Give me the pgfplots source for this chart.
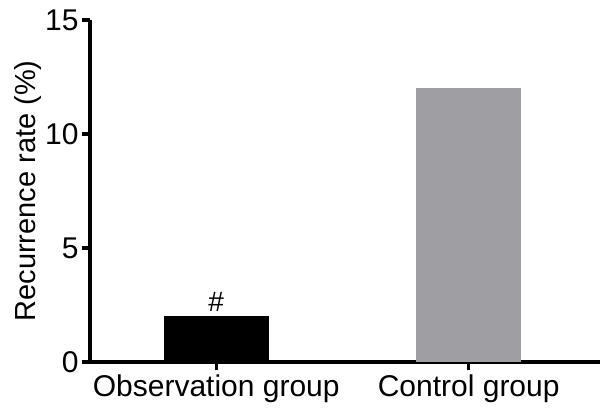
\documentclass[border=0pt]{standalone}
\usepackage{pgfplots}
\pgfplotsset{compat=1.18}
\usepackage{fontspec}
\setmainfont{Liberation Sans}
\definecolor{ctrlgray}{RGB}{159,159,163}

\begin{document}
\begin{tikzpicture}
\begin{axis}[
    name=ax,
    scale only axis,
    width=510pt, height=342pt,
    axis lines=left,
    axis line style={line width=3.4pt, -},
    xmin=-0.5, xmax=1.52,
    ymin=0, ymax=15,
    ytick={0,5,10,15},
    xtick={0,1},
    xticklabels={Observation group,Control group},
    tick style={line width=3.4pt, black},
    major tick length=8pt,
    tick align=outside,
    tick pos=left,
    ticklabel style={font=\fontsize{30}{34}\selectfont},
    /pgf/number format/assume math mode=true,
    yticklabel style={xshift=0pt},
    xticklabel style={yshift=-1pt},
    ylabel={Recurrence rate (\%)},
    ylabel style={font=\fontsize{29}{33}\selectfont, yshift=-3pt},
    clip=false,
]
\addplot[ybar, bar width=105pt, bar shift=0pt, fill=black, draw=none,
    nodes near coords={\#},
    every node near coord/.append style={font=\fontsize{28}{32}\selectfont, yshift=1pt}]
    coordinates {(0,2)};
\addplot[ybar, bar width=105pt, bar shift=0pt, fill=ctrlgray, draw=none]
    coordinates {(1,12)};
\end{axis}
\pgfresetboundingbox
\path[use as bounding box] ([xshift=-90pt,yshift=-52pt]ax.south west) rectangle ([yshift=20pt]ax.north east);
\end{tikzpicture}
\end{document}
